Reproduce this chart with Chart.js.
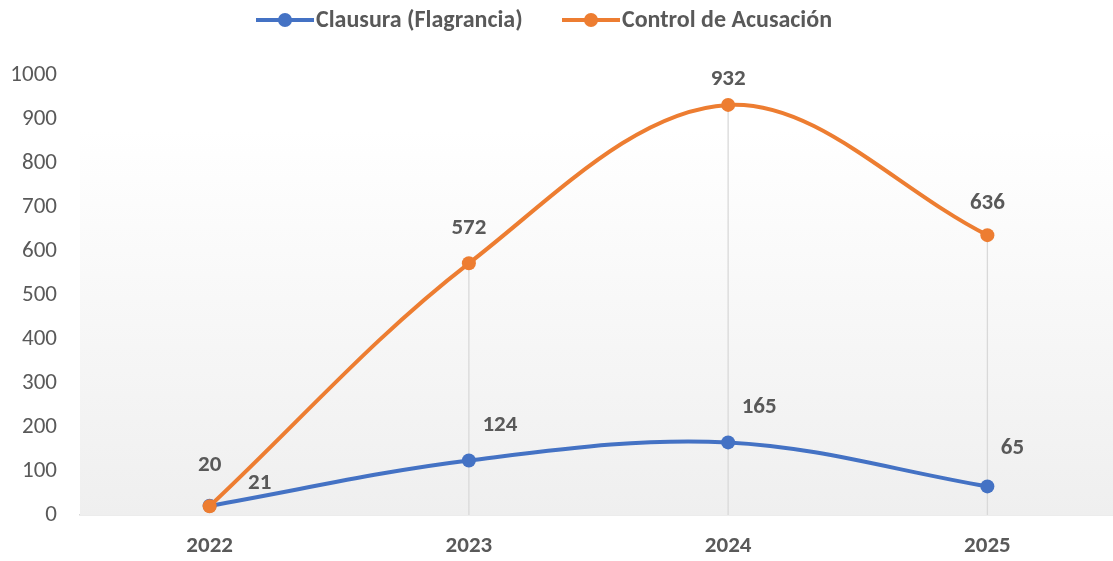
<!DOCTYPE html>
<html><head><meta charset="utf-8">
<script src="https://cdn.jsdelivr.net/npm/chart.js@4.4.0/dist/chart.umd.min.js"></script>
<style>html,body{margin:0;padding:0;background:#fff;overflow:hidden}#wrap{width:1113px;height:561px;overflow:hidden}</style>
</head><body><div id="wrap"><canvas id="c" width="1124" height="561"></canvas></div>
<script>
const categories = ['2022','2023','2024','2025'];
const clausura = [21,124,165,65];
const control = [20,572,932,636];
const seriesNames = ['Clausura (Flagrancia)','Control de Acusación'];
const yTicks = [0,100,200,300,400,500,600,700,800,900,1000];
const BLUE = '#4472C4', ORANGE = '#ED7D31', TXT = '#595959';
const FONT = "Carlito, Lato, 'Liberation Sans', sans-serif";

const bgPlugin = {
  id:'bg',
  beforeDatasetsDraw(chart){
    const {ctx, chartArea:a, scales} = chart;
    const top = 130;
    ctx.save();
    const g = ctx.createLinearGradient(0, top, 0, a.bottom);
    g.addColorStop(0,'#ffffff'); g.addColorStop(1,'#efefef');
    ctx.fillStyle = g;
    ctx.fillRect(a.left, top, chart.width - a.left, a.bottom - top);
    ctx.strokeStyle = '#d9d9d9'; ctx.lineWidth = 1.3;
    for (let i=1;i<categories.length;i++){
      const x = scales.x.getPixelForValue(i);
      const hi = Math.max(clausura[i], control[i]);
      ctx.beginPath();
      ctx.moveTo(x, scales.y.getPixelForValue(hi));
      ctx.lineTo(x, a.bottom);
      ctx.stroke();
    }
    ctx.restore();
  }
};

const labelPlugin = {
  id:'labels',
  afterDatasetsDraw(chart){
    const ctx = chart.ctx;
    ctx.save();
    ctx.font = "bold 23px " + FONT;
    ctx.fillStyle = TXT;
    ctx.textAlign='center'; ctx.textBaseline='middle';
    const m0 = chart.getDatasetMeta(0), m1 = chart.getDatasetMeta(1);
    const bo = [[50,-23],[31,-35],[31,-35],[25,-38]];
    m0.data.forEach((p,i)=>{ ctx.fillText(String(clausura[i]), p.x+bo[i][0], p.y+bo[i][1]); });
    const offs=[41,35,26,32];
    m1.data.forEach((p,i)=>{ ctx.fillText(String(control[i]), p.x, p.y-offs[i]); });
    ctx.font = "bold 24px " + FONT;
    ctx.textAlign='left';
    const items = [{n:seriesNames[0],c:BLUE,x:256},{n:seriesNames[1],c:ORANGE,x:562}];
    items.forEach(it=>{
      ctx.strokeStyle=it.c; ctx.lineWidth=4;
      ctx.beginPath(); ctx.moveTo(it.x,20); ctx.lineTo(it.x+58,20); ctx.stroke();
      ctx.fillStyle=it.c; ctx.beginPath(); ctx.arc(it.x+29,20,7,0,Math.PI*2); ctx.fill();
      ctx.fillStyle=TXT; ctx.fillText(it.n, it.x+60, 21);
    });
    ctx.restore();
  }
};

new Chart(document.getElementById('c'), {
  type:'line',
  data:{ labels:categories, datasets:[
    {label:seriesNames[0], data:clausura, order:2, borderColor:BLUE, backgroundColor:BLUE, borderWidth:4, pointRadius:7, pointBackgroundColor:BLUE, pointBorderWidth:0, tension:0.35},
    {label:seriesNames[1], data:control, order:1, borderColor:ORANGE, backgroundColor:ORANGE, borderWidth:4, pointRadius:7, pointBackgroundColor:ORANGE, pointBorderWidth:0, tension:0.35}
  ]},
  options:{
    responsive:false, animation:false,
    layout:{padding:{top:75,right:0,bottom:2,left:0}},
    plugins:{legend:{display:false}, tooltip:{enabled:false}},
    scales:{
      x:{ offset:true, grid:{display:false, drawTicks:false}, border:{display:true,color:'#d9d9d9',width:1.5},
          afterFit(s){ s.height = 44; },
          ticks:{padding:17, color:TXT, font:{family:FONT,size:23,weight:'bold'}} },
      y:{ min:0, max:1000, afterBuildTicks(s){ s.ticks = yTicks.map(v=>({value:v})); },
          afterFit(s){ s.width = 80; },
          grid:{display:false, drawTicks:false}, border:{display:false},
          ticks:{padding:23, color:TXT, font:{family:FONT,size:23}, callback:(v)=>String(v)} }
    }
  },
  plugins:[bgPlugin,labelPlugin]
});
</script></body></html>
